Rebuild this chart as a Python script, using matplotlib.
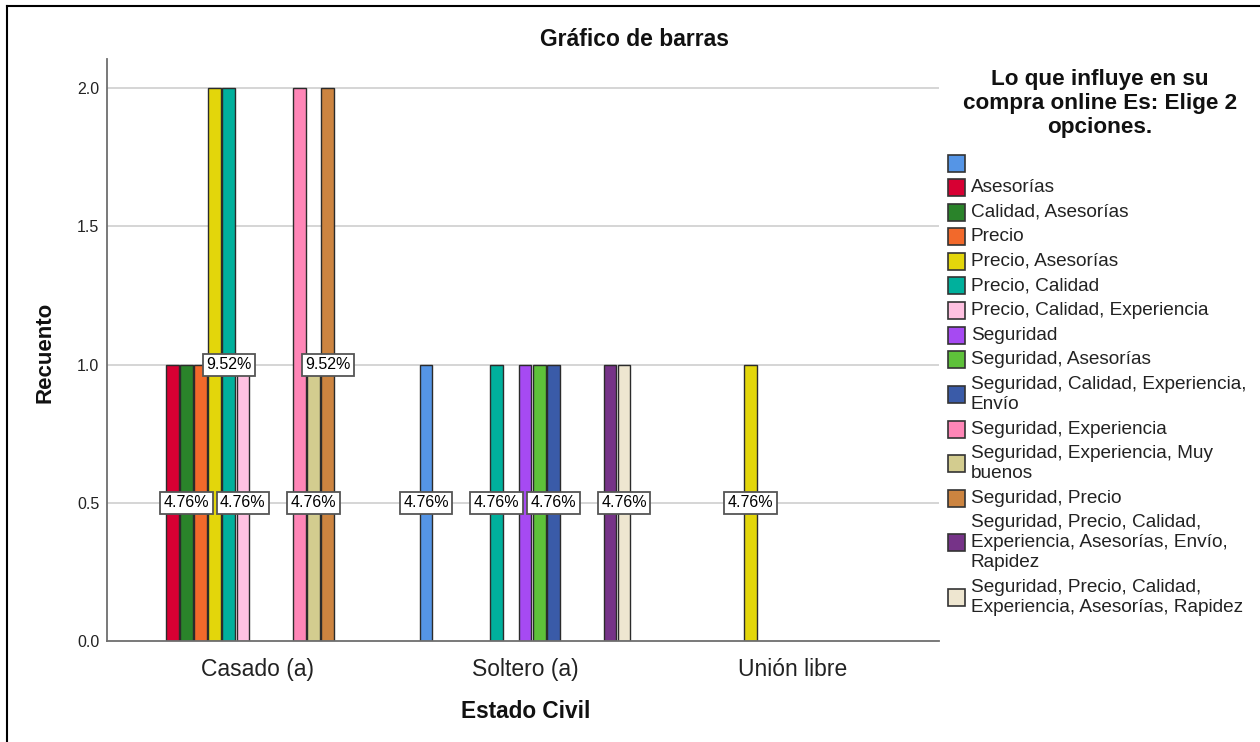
import matplotlib
matplotlib.use("Agg")
import matplotlib.pyplot as plt
from matplotlib.patches import Rectangle
from matplotlib.lines import Line2D

# ---------------- data ----------------
categories = ["Casado (a)", "Soltero (a)", "Unión libre"]

series_labels = [
    "",
    "Asesorías",
    "Calidad, Asesorías",
    "Precio",
    "Precio, Asesorías",
    "Precio, Calidad",
    "Precio, Calidad, Experiencia",
    "Seguridad",
    "Seguridad, Asesorías",
    "Seguridad, Calidad, Experiencia,\nEnvío",
    "Seguridad, Experiencia",
    "Seguridad, Experiencia, Muy\nbuenos",
    "Seguridad, Precio",
    "Seguridad, Precio, Calidad,\nExperiencia, Asesorías, Envío,\nRapidez",
    "Seguridad, Precio, Calidad,\nExperiencia, Asesorías, Rapidez",
]

series_colors = [
    "#5595E6", "#D70033", "#2A832A", "#F2692B", "#E3D60B",
    "#00B09C", "#FFC1E1", "#A64AF2", "#5EC13A", "#3A5BA8",
    "#FF86B7", "#D3CC8F", "#CC8440", "#763388", "#EEE6D0",
]

# counts per series for [Casado, Soltero, Unión libre]
counts = [
    [0, 1, 0],
    [1, 0, 0],
    [1, 0, 0],
    [1, 0, 0],
    [2, 0, 1],
    [2, 1, 0],
    [1, 0, 0],
    [0, 1, 0],
    [0, 1, 0],
    [0, 1, 0],
    [2, 0, 0],
    [1, 0, 0],
    [2, 0, 0],
    [0, 1, 0],
    [0, 1, 0],
]

title = "Gráfico de barras"
legend_title = "Lo que influye en su\ncompra online Es: Elige 2\nopciones."
x_title = "Estado Civil"
y_title = "Recuento"
y_ticks = [0.0, 0.5, 1.0, 1.5, 2.0]

# ---------------- figure ----------------
FONT = ["Liberation Sans", "DejaVu Sans"]
plt.rcParams["font.family"] = FONT
W, H = 1260, 742
fig = plt.figure(figsize=(W / 100, H / 100), dpi=100)
fig.patch.set_facecolor("white")

def fx(px):
    return px / W

def fy(py):
    return 1 - py / H

ax = fig.add_axes([fx(107), fy(641), fx(939) - fx(107), fy(59) - fy(641)])

n_series = len(series_labels)
slot = 0.0528
bar_w = 0.0475
total = sum(sum(c) for c in counts)

for yv in y_ticks[1:]:
    ax.axhline(yv, color="#D2D2D2", lw=1.3, zorder=0)

label_candidates = []  # (x, y, text)
for i in range(n_series):
    for j, cat in enumerate(categories):
        v = counts[i][j]
        if v <= 0:
            continue
        x = j + (i - (n_series - 1) / 2) * slot
        ax.bar(x, v, width=bar_w, color=series_colors[i], edgecolor="#2B2B2B",
               linewidth=1.0, zorder=2)
        pct = v / total * 100
        label_candidates.append((x, v / 2, f"{pct:.2f}%"))

# hide overlapping labels (right-to-left greedy per height level)
min_sep = 0.19
shown = []
for x, y, t in sorted(label_candidates, key=lambda a: -a[0]):
    if all(not (abs(y - sy) < 0.05 and abs(x - sx) < min_sep) for sx, sy, _ in shown):
        shown.append((x, y, t))
for x, y, t in shown:
    ax.text(x, y, t, ha="center", va="center", fontsize=11.5, color="black",
            zorder=5,
            bbox=dict(boxstyle="square,pad=0.22", fc="white", ec="#555555", lw=1.3))

ax.set_xlim(-0.56, 2.545)
ax.set_ylim(0, 2.105)
ax.set_xticks(range(len(categories)))
ax.set_xticklabels(categories, fontsize=16.5, color="#222222")
ax.set_yticks(y_ticks)
ax.set_yticklabels([f"{v:.1f}" for v in y_ticks], fontsize=11.5, color="#222222")
ax.tick_params(axis="both", length=0)
ax.tick_params(axis="x", pad=12)
ax.tick_params(axis="y", pad=5.5)
for s in ["top", "right"]:
    ax.spines[s].set_visible(False)
for s in ["left", "bottom"]:
    ax.spines[s].set_color("#6E6E6E")
    ax.spines[s].set_linewidth(1.3)

fig.text(fx(635), fy(40), title, ha="center", va="center", fontsize=16.5,
         fontweight="bold", color="#111111")
fig.text(fx(45), fy(352), y_title, ha="center", va="center", rotation=90,
         fontsize=16, fontweight="bold", color="#111111")
fig.text(fx(526), fy(712), x_title, ha="center", va="center", fontsize=16.3,
         fontweight="bold", color="#111111")

# legend title
for k, line in enumerate(legend_title.split("\n")):
    fig.text(fx(1100), fy(80 + 24 * k), line, ha="center", va="center",
             fontsize=16.2, fontweight="bold", color="#111111")

# legend entries
entry_h = 24.6
line_h = 20.0
y_top = 163 - entry_h / 2
for i, lab in enumerate(series_labels):
    lines = lab.split("\n")
    h = entry_h + (len(lines) - 1) * line_h
    yc = y_top + h / 2
    rect = Rectangle((fx(948), fy(yc + 8.5)), fx(17), fy(0) - fy(17),
                     transform=fig.transFigure, facecolor=series_colors[i],
                     edgecolor="#333333", lw=1.2)
    fig.patches.append(rect)
    first = yc - (len(lines) - 1) * line_h / 2
    for k, ln in enumerate(lines):
        fig.text(fx(971), fy(first + k * line_h), ln, ha="left", va="center",
                 fontsize=13.7, color="#222222")
    y_top += h

# outer frame (left and top edges visible)
fig.add_artist(Line2D([fx(7), fx(7)], [fy(6), 0], transform=fig.transFigure,
                      color="black", lw=1.5))
fig.add_artist(Line2D([fx(7), 1], [fy(6), fy(6)], transform=fig.transFigure,
                      color="black", lw=1.5))

fig.savefig("out.png", dpi=100, facecolor="white")
